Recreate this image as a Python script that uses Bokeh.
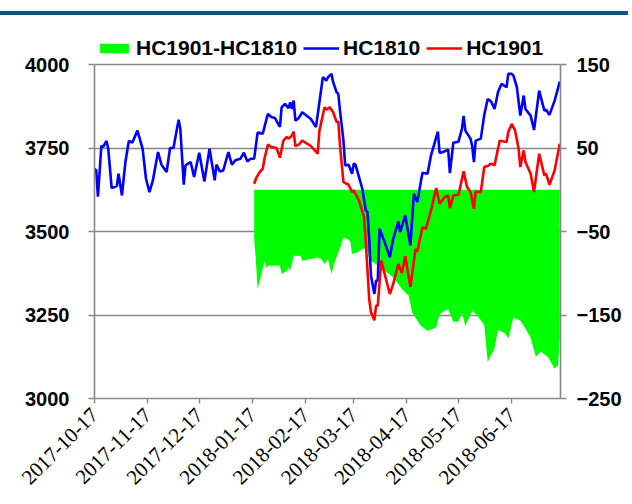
import math
import pandas as pd
from bokeh.plotting import figure
from bokeh.models import (Range1d, LinearAxis, FixedTicker, DatetimeTickFormatter,
                          Legend, LegendItem, ColumnDataSource)
from bokeh.embed import file_html
from bokeh.resources import INLINE

# ---------------- data ----------------
hc1810_dates = ["2017-10-17","2017-10-18","2017-10-19","2017-10-21","2017-10-22","2017-10-24","2017-10-25",
    "2017-10-27","2017-10-30","2017-10-31","2017-11-02","2017-11-03","2017-11-04","2017-11-06","2017-11-08",
    "2017-11-11","2017-11-14","2017-11-16","2017-11-18","2017-11-20","2017-11-23","2017-11-25","2017-11-28",
    "2017-11-30","2017-12-02","2017-12-05","2017-12-06","2017-12-08","2017-12-09","2017-12-12","2017-12-14",
    "2017-12-17","2017-12-20","2017-12-23","2017-12-26","2017-12-27","2017-12-29","2017-12-31","2018-01-03",
    "2018-01-05","2018-01-07","2018-01-10","2018-01-12","2018-01-14","2018-01-16","2018-01-18","2018-01-20",
    "2018-01-23","2018-01-26","2018-01-28","2018-01-30","2018-02-02","2018-02-03","2018-02-05","2018-02-07",
    "2018-02-08","2018-02-09","2018-02-10","2018-02-11","2018-02-13","2018-02-15","2018-02-20","2018-02-23",
    "2018-02-25","2018-02-27","2018-03-01","2018-03-02","2018-03-04","2018-03-05","2018-03-07","2018-03-08",
    "2018-03-09","2018-03-11","2018-03-12","2018-03-14","2018-03-16","2018-03-17","2018-03-18","2018-03-22",
    "2018-03-24","2018-03-25","2018-03-26","2018-03-27","2018-03-29","2018-03-30","2018-03-31","2018-04-01",
    "2018-04-04","2018-04-07","2018-04-09","2018-04-12","2018-04-13","2018-04-16","2018-04-19","2018-04-21",
    "2018-04-23","2018-04-26","2018-04-29","2018-05-01","2018-05-05","2018-05-06","2018-05-08","2018-05-11",
    "2018-05-12","2018-05-14","2018-05-17","2018-05-19","2018-05-20","2018-05-21","2018-05-24","2018-05-25",
    "2018-05-26","2018-05-27","2018-05-30","2018-06-01","2018-06-03","2018-06-05","2018-06-07","2018-06-09",
    "2018-06-11","2018-06-14","2018-06-15","2018-06-17","2018-06-18","2018-06-20","2018-06-22","2018-06-24",
    "2018-06-25","2018-06-28","2018-06-30","2018-07-03","2018-07-06","2018-07-07","2018-07-09","2018-07-12",
    "2018-07-15"]
hc1810_values = [3688,3683,3604,3757,3753,3771,3748,3630,3636,3673,3608,3658,3708,3771,3766,3802,3748,3658,
    3618,3653,3738,3700,3678,3750,3750,3835,3807,3640,3698,3708,3663,3736,3650,3748,3653,3700,3680,3683,3738,
    3700,3713,3718,3736,3710,3718,3718,3796,3793,3852,3843,3840,3813,3872,3882,3869,3887,3867,3892,3832,3840,
    3857,3837,3813,3887,3962,3952,3962,3972,3947,3917,3912,3862,3772,3698,3700,3673,3703,3700,3628,3563,3558,
    3478,3368,3313,3353,3353,3508,3468,3423,3478,3530,3498,3548,3458,3613,3588,3676,3673,3728,3799,3735,3738,
    3745,3675,3766,3769,3807,3846,3802,3778,3756,3708,3772,3778,3849,3897,3889,3867,3917,3942,3932,3972,3972,
    3967,3932,3847,3907,3867,3847,3804,3922,3862,3865,3849,3892,3949]

hc1901_dates = ["2018-01-18","2018-01-19","2018-01-21","2018-01-23","2018-01-24","2018-01-26","2018-01-28",
    "2018-01-31","2018-02-02","2018-02-04","2018-02-06","2018-02-07","2018-02-09","2018-02-10","2018-02-11",
    "2018-02-13","2018-02-15","2018-02-20","2018-02-24","2018-02-25","2018-02-28","2018-03-01","2018-03-03",
    "2018-03-05","2018-03-07","2018-03-08","2018-03-09","2018-03-11","2018-03-14","2018-03-16","2018-03-17",
    "2018-03-20","2018-03-23","2018-03-24","2018-03-26","2018-03-27","2018-03-29","2018-03-30","2018-03-31",
    "2018-04-02","2018-04-04","2018-04-07","2018-04-09","2018-04-12","2018-04-14","2018-04-16","2018-04-19",
    "2018-04-22","2018-04-23","2018-04-26","2018-04-28","2018-05-01","2018-05-04","2018-05-06","2018-05-09",
    "2018-05-11","2018-05-12","2018-05-14","2018-05-17","2018-05-20","2018-05-22","2018-05-24","2018-05-26",
    "2018-05-27","2018-05-30","2018-06-01","2018-06-03","2018-06-05","2018-06-07","2018-06-09","2018-06-10",
    "2018-06-14","2018-06-15","2018-06-17","2018-06-19","2018-06-21","2018-06-22","2018-06-24","2018-06-25",
    "2018-06-28","2018-06-30","2018-07-03","2018-07-06","2018-07-07","2018-07-09","2018-07-12","2018-07-15"]
hc1901_values = [3643,3658,3676,3688,3718,3760,3753,3750,3721,3772,3783,3778,3787,3799,3756,3760,3772,3756,
    3733,3802,3872,3865,3872,3857,3828,3829,3757,3648,3640,3618,3623,3593,3543,3468,3298,3259,3234,3278,3278,
    3413,3373,3313,3343,3403,3376,3426,3334,3448,3440,3513,3508,3563,3630,3583,3603,3608,3570,3608,3610,3680,
    3633,3618,3568,3620,3618,3693,3696,3703,3698,3748,3772,3768,3798,3822,3802,3748,3693,3743,3708,3673,3618,
    3733,3668,3673,3640,3683,3763]

spread_dates = ["2018-01-18","2018-01-19","2018-01-20","2018-01-22","2018-01-24","2018-01-25","2018-01-26",
    "2018-01-29","2018-02-02","2018-02-03","2018-02-06","2018-02-07","2018-02-08","2018-02-10","2018-02-14",
    "2018-02-15","2018-02-20","2018-02-24","2018-02-26","2018-02-28","2018-03-02","2018-03-04","2018-03-06",
    "2018-03-09","2018-03-11","2018-03-14","2018-03-15","2018-03-16","2018-03-19","2018-03-22","2018-03-23",
    "2018-03-25","2018-03-26","2018-03-30","2018-04-02","2018-04-08","2018-04-12","2018-04-14","2018-04-18",
    "2018-04-20","2018-04-25","2018-04-29","2018-05-04","2018-05-06","2018-05-09","2018-05-11","2018-05-14",
    "2018-05-17","2018-05-19","2018-05-21","2018-05-25","2018-05-28","2018-06-01","2018-06-03","2018-06-07",
    "2018-06-09","2018-06-13","2018-06-15","2018-06-18","2018-06-22","2018-06-24","2018-06-28","2018-07-01",
    "2018-07-04","2018-07-08","2018-07-12","2018-07-14","2018-07-15"]
spread_values = [-59,-85,-119,-103,-85,-94,-91,-91,-91,-101,-97,-93,-97,-79,-79,-85,-83,-81,-83,-89,-83,-101,
    -86,-70,-57,-60,-62,-77,-75,-71,-70,-73,-84,-89,-95,-103,-113,-119,-127,-147,-163,-169,-165,-149,-145,-143,
    -158,-158,-147,-163,-145,-151,-162,-206,-190,-168,-172,-178,-153,-157,-163,-177,-200,-194,-200,-214,-210,-178]

x_tick_dates = ["2017-10-17","2017-11-17","2017-12-17","2018-01-17","2018-02-17",
                "2018-03-17","2018-04-17","2018-05-17","2018-06-17"]
left_ticks = [3000, 3250, 3500, 3750, 4000]
right_ticks = [-250, -150, -50, 50, 150]

# ---------------- figure ----------------
# frame spans 370 px; the value axes occupy its lower 334 px, the legend sits above them
LEFT_LO, LEFT_HI = 3000, 4000
RIGHT_LO, RIGHT_HI = -250, 150
EXTRA = 370 / 334
src_1810 = ColumnDataSource(dict(x=pd.to_datetime(hc1810_dates), y=hc1810_values))
src_1901 = ColumnDataSource(dict(x=pd.to_datetime(hc1901_dates), y=hc1901_values))
src_spread = ColumnDataSource(dict(x=pd.to_datetime(spread_dates), y=spread_values))

p = figure(width=628, height=500, x_axis_type="datetime", output_backend="svg",
           toolbar_location=None,
           x_range=Range1d(pd.Timestamp("2017-10-17"), pd.Timestamp("2018-07-15 10:00")),
           y_range=Range1d(LEFT_LO, LEFT_LO + (LEFT_HI - LEFT_LO) * EXTRA),
           min_border_left=94, min_border_right=68, min_border_top=28, min_border_bottom=102)
p.outline_line_color = None
p.extra_y_ranges = {"spread": Range1d(RIGHT_LO, RIGHT_LO + (RIGHT_HI - RIGHT_LO) * EXTRA)}

# dark header rule drawn behind the transparent canvas border area
p.border_fill_color = None
p.background_fill_color = "white"
p.styles = {"background": "linear-gradient(to bottom, transparent 11px, #0b5585 11px, "
                          "#0b5585 15.5px, transparent 15.5px)"}

GRID = "#888888"

area = p.varea(x="x", y1=0, y2="y", source=src_spread, y_range_name="spread",
               fill_color="#00ff00", fill_alpha=1.0)
l1810 = p.line(x="x", y="y", source=src_1810, line_color="#0000ff", line_width=2.6)
l1901 = p.line(x="x", y="y", source=src_1901, line_color="#ff0000", line_width=2.6)

p.xgrid.visible = False
p.ygrid.grid_line_color = GRID
p.ygrid.grid_line_width = 1.4

yl = p.yaxis[0]
yl.ticker = FixedTicker(ticks=left_ticks)
yl.bounds = (LEFT_LO, LEFT_HI)
yr = LinearAxis(y_range_name="spread", ticker=FixedTicker(ticks=right_ticks), bounds=(RIGHT_LO, RIGHT_HI))
p.add_layout(yr, "right")

for ax in (yl, yr):
    ax.axis_line_color = GRID
    ax.axis_line_width = 1.6
    ax.major_tick_line_color = GRID
    ax.major_tick_line_width = 1.4
    ax.major_tick_out = 6
    ax.major_tick_in = 0
    ax.minor_tick_out = 0
    ax.minor_tick_in = 0
    ax.major_label_text_font = "Liberation Sans"
    ax.major_label_text_font_style = "bold"
    ax.major_label_text_font_size = "20px"
    ax.major_label_text_color = "black"
yl.major_label_standoff = 19
yr.major_label_standoff = 10

xa = p.xaxis[0]
xa.ticker = FixedTicker(ticks=[pd.Timestamp(d).value / 1e6 for d in x_tick_dates])
fmt = "%Y-%m-%d"
xa.formatter = DatetimeTickFormatter(milliseconds=fmt, seconds=fmt, minsec=fmt, minutes=fmt,
                                     hourmin=fmt, hours=fmt, days=fmt, months=fmt, years=fmt)
xa.major_label_orientation = math.pi / 4
xa.major_label_text_font = "Liberation Serif"
xa.major_label_text_font_size = "21px"
xa.major_label_text_color = "black"
xa.major_label_standoff = 8
xa.axis_line_color = GRID
xa.axis_line_width = 1.6
xa.major_tick_line_color = GRID
xa.major_tick_line_width = 1.4
xa.major_tick_out = 5
xa.major_tick_in = 0
xa.minor_tick_out = 0
xa.minor_tick_in = 0

legend = Legend(items=[LegendItem(label="HC1901-HC1810", renderers=[area]),
                       LegendItem(label="HC1810", renderers=[l1810]),
                       LegendItem(label="HC1901", renderers=[l1901])],
                orientation="horizontal", location=(2, 338),
                padding=0, margin=0, spacing=6, label_standoff=4,
                glyph_width=36, glyph_height=12,
                border_line_color=None, background_fill_alpha=0,
                label_text_font="Liberation Sans", label_text_font_style="bold",
                label_text_font_size="21px", label_text_color="black")
p.add_layout(legend, "center")

open("out.html", "w").write(file_html(p, INLINE))
